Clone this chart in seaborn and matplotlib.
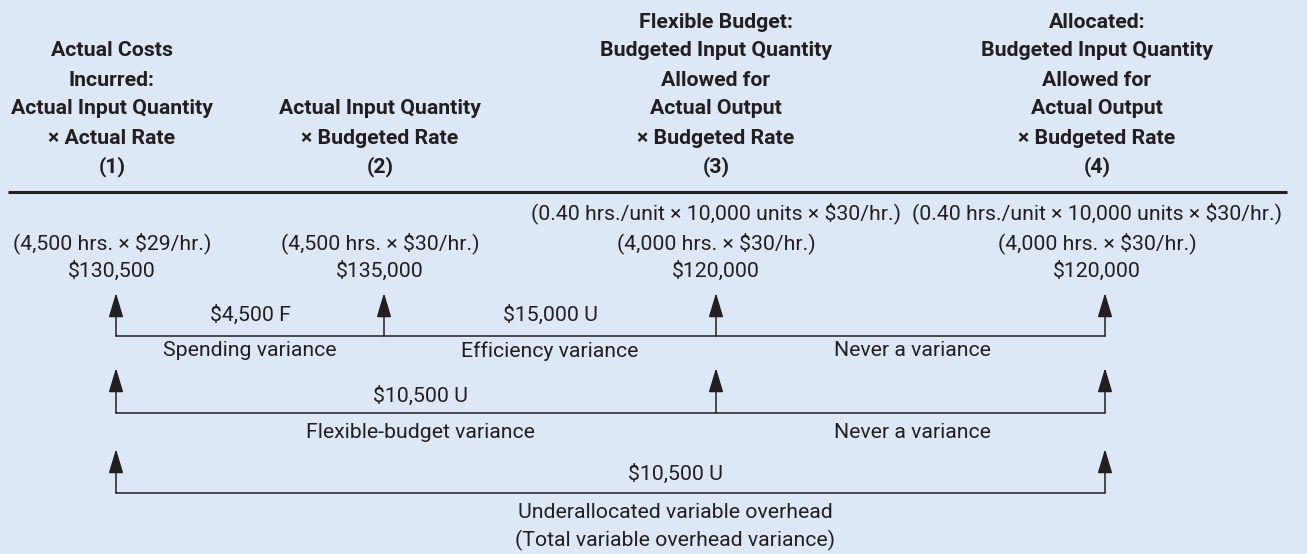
import numpy as np
import pandas as pd
import matplotlib
matplotlib.use("Agg")
import matplotlib.pyplot as plt
import seaborn as sns

# -------------------- data --------------------
ARROW_X = [116, 384, 716, 1105]          # the four columns (1)..(4)
TEXT_X = [112, 380, 716, 1097]

HEADERS = [
    ["Actual Costs", "Incurred:", "Actual Input Quantity", "× Actual Rate", "(1)"],
    ["Actual Input Quantity", "× Budgeted Rate", "(2)"],
    ["Flexible Budget:", "Budgeted Input Quantity", "Allowed for",
     "Actual Output", "× Budgeted Rate", "(3)"],
    ["Allocated:", "Budgeted Input Quantity", "Allowed for",
     "Actual Output", "× Budgeted Rate", "(4)"],
]
FORMULA_TOP = ["", "", "(0.40 hrs./unit × 10,000 units × $30/hr.)",
               "(0.40 hrs./unit × 10,000 units × $30/hr.)"]
FORMULA = ["(4,500 hrs. × $29/hr.)", "(4,500 hrs. × $30/hr.)",
           "(4,000 hrs. × $30/hr.)", "(4,000 hrs. × $30/hr.)"]
AMOUNTS = ["$130,500", "$135,000", "$120,000", "$120,000"]

# variance rows: which columns are linked, amounts and labels per segment
ROW_COLS = [[0, 1, 2, 3], [0, 2, 3], [0, 3]]
ROW_AMOUNTS = [["$4,500 F", "$15,000 U", ""], ["$10,500 U", ""], ["$10,500 U"]]
ROW_LABELS = [
    ["Spending variance", "Efficiency variance", "Never a variance"],
    ["Flexible-budget variance", "Never a variance"],
    ["Underallocated variable overhead\n(Total variable overhead variance)"],
]
ROW_LABEL_X = [[250, 550, 912], [420, 912], [675]]

# -------------------- style --------------------
BG = "#dce8f5"
INK = "#231f20"
FS = 15.3      # body text
FS_HEAD = 15.3 # bold header
sns.set_theme(style="white", rc={"figure.facecolor": BG, "axes.facecolor": BG})
plt.rcParams["font.family"] = ["Roboto", "DejaVu Sans"]

W, H = 1307, 554
fig = plt.figure(figsize=(W / 100, H / 100), dpi=100)
ax = fig.add_axes([0, 0, 1, 1])

# bracket rows
LINE_Y = [336, 413, 493]
TIP_Y = [293, 368, 449]
AMT_Y = [315, 396, 474]
LAB_Y = [351, 432, 512]

segs = []
for r, cols in enumerate(ROW_COLS):
    xs = [ARROW_X[c] for c in cols]
    segs.append(pd.DataFrame({"x": [xs[0], xs[-1]], "y": [LINE_Y[r]] * 2, "row": r}))
seg_df = pd.concat(segs, ignore_index=True)
sns.lineplot(data=seg_df, x="x", y="y", units="row", estimator=None,
             color=INK, lw=1.1, ax=ax, legend=False)
ax.set_xlim(0, W)
ax.set_ylim(H, 0)
ax.axis("off")

# header block, bottom-aligned at the "(n)" line
for x, lines in zip(TEXT_X, HEADERS):
    n = len(lines)
    for i, line in enumerate(lines):
        y = 167 - 29 * (n - 1 - i)
        ax.text(x, y, line, ha="center", va="center", fontsize=FS_HEAD,
                fontweight="bold", color=INK)

ax.plot([8, 1287], [192, 192], color=INK, lw=2.2, solid_capstyle="butt")

for x, top, mid, amt in zip(TEXT_X, FORMULA_TOP, FORMULA, AMOUNTS):
    if top:
        ax.text(x, 213, top, ha="center", va="center", fontsize=FS, color=INK)
    ax.text(x, 243, mid, ha="center", va="center", fontsize=FS, color=INK)
    ax.text(x, 271, amt, ha="center", va="center", fontsize=FS, color=INK)

for r, cols in enumerate(ROW_COLS):
    for c in cols:
        ax.annotate("", xy=(ARROW_X[c], TIP_Y[r]), xytext=(ARROW_X[c], LINE_Y[r]),
                    arrowprops=dict(arrowstyle="-|>,head_length=1.5,head_width=0.45",
                                    mutation_scale=10, color=INK, lw=1.1,
                                    shrinkA=0, shrinkB=0))
    for amt, lab, lx in zip(ROW_AMOUNTS[r], ROW_LABELS[r], ROW_LABEL_X[r]):
        if amt:
            ax.text(lx, AMT_Y[r], amt, ha="center", va="center", fontsize=FS, color=INK)
        for k, part in enumerate(lab.split("\n")):
            ax.text(lx, LAB_Y[r] + 28 * k, part, ha="center", va="center",
                    fontsize=FS, color=INK)

fig.savefig("out.png", dpi=100, facecolor=BG)
